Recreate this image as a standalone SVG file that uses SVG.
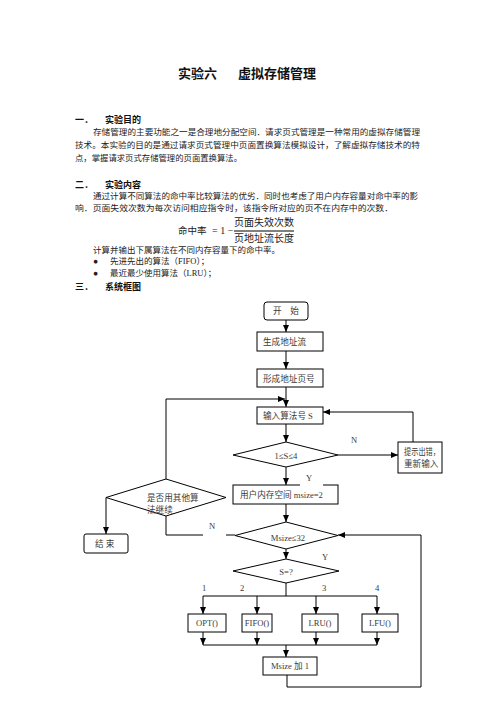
<svg xmlns="http://www.w3.org/2000/svg" width="496" height="702" viewBox="0 0 496 702">
<style>
text{font-family:"Liberation Serif","Noto Sans CJK SC",serif;fill:#222}
.t{font-size:13px;font-weight:bold;fill:#111}
.h{font-size:9px;font-weight:bold;fill:#111}
.p{font-size:8.5px}
.f{font-size:8.6px;fill:#3a3a3a}
.c{text-anchor:middle}
.box{fill:#fff;stroke:#000;stroke-width:1}
.ln{fill:none;stroke:#000;stroke-width:1}
</style>
<defs>
<marker id="ar" markerUnits="userSpaceOnUse" markerWidth="7" markerHeight="6" refX="7" refY="3" orient="auto">
<path d="M0,0 L7,3 L0,6 z" fill="#000"/>
</marker>
</defs>
<rect width="496" height="702" fill="#fff"/>

<g id="doc">
<text class="t" x="178" y="77.5">实验六</text>
<text class="t" x="238" y="77.5">虚拟存储管理</text>
<text class="h" x="75" y="123">一．</text>
<text class="h" x="105" y="123">实验目的</text>
<text class="p" x="93" y="135" textLength="327" lengthAdjust="spacingAndGlyphs">存储管理的主要功能之一是合理地分配空间．请求页式管理是一种常用的虚拟存储管理</text>
<text class="p" x="75" y="148" textLength="345" lengthAdjust="spacingAndGlyphs">技术。本实验的目的是通过请求页式管理中页面置换算法模拟设计，了解虚拟存储技术的特</text>
<text class="p" x="75" y="161" textLength="167" lengthAdjust="spacingAndGlyphs">点，掌握请求页式存储管理的页面置换算法。</text>
<text class="h" x="75" y="188">二．</text>
<text class="h" x="105" y="188">实验内容</text>
<text class="p" x="93" y="199" textLength="325" lengthAdjust="spacingAndGlyphs">通过计算不同算法的命中率比较算法的优劣．同时也考虑了用户内存容量对命中率的影</text>
<text class="p" x="75" y="211" textLength="318" lengthAdjust="spacingAndGlyphs">响．页面失效次数为每次访问相应指令时，该指令所对应的页不在内存中的次数．</text>
<text x="178" y="234" style="font-size:9.5px">命中率</text>
<text x="212" y="234" style="font-size:10px">= 1 −</text>
<text x="264" y="226" class="c" style="font-size:10px">页面失效次数</text>
<line x1="234" y1="231" x2="294" y2="231" class="ln"/>
<text x="264" y="241.5" class="c" style="font-size:10px">页地址流长度</text>
<text class="p" x="93" y="253">计算并输出下属算法在不同内存容量下的命中率。</text>
<text class="p" x="93" y="264">●</text>
<text class="p" x="110" y="264">先进先出的算法（FIFO）；</text>
<text class="p" x="93" y="276">●</text>
<text class="p" x="110" y="276">最近最少使用算法（LRU）；</text>
<text class="h" x="75" y="290">三．</text>
<text class="h" x="105" y="290">系统框图</text>
</g>

<g id="connectors">
<line class="ln" x1="286" y1="320" x2="286" y2="332" marker-end="url(#ar)"/>
<line class="ln" x1="286" y1="351" x2="286" y2="369" marker-end="url(#ar)"/>
<line class="ln" x1="286" y1="387" x2="286" y2="407" marker-end="url(#ar)"/>
<polyline class="ln" points="166,479 166,399 285,399" marker-end="url(#ar)"/>
<line class="ln" x1="286" y1="424" x2="286" y2="442" marker-end="url(#ar)"/>
<line class="ln" x1="338" y1="455" x2="398" y2="455" marker-end="url(#ar)"/>
<polyline class="ln" points="413,442 413,412 323,412" marker-end="url(#ar)"/>
<line class="ln" x1="286" y1="467" x2="286" y2="485" marker-end="url(#ar)"/>
<line class="ln" x1="286" y1="504" x2="286" y2="522" marker-end="url(#ar)"/>
<line class="ln" x1="235" y1="535" x2="226" y2="535"/>
<polyline class="ln" points="203,535 166,535 166,516"/>
<line class="ln" x1="106" y1="497.5" x2="106" y2="534" marker-end="url(#ar)"/>
<line class="ln" x1="286" y1="549" x2="286" y2="559" marker-end="url(#ar)"/>
<line class="ln" x1="286" y1="583" x2="286" y2="596"/>
<line class="ln" x1="203" y1="596" x2="377" y2="596"/>
<line class="ln" x1="203" y1="596" x2="203" y2="614" marker-end="url(#ar)"/>
<line class="ln" x1="257" y1="596" x2="257" y2="614" marker-end="url(#ar)"/>
<line class="ln" x1="316" y1="596" x2="316" y2="614" marker-end="url(#ar)"/>
<line class="ln" x1="377" y1="596" x2="377" y2="614" marker-end="url(#ar)"/>
<line class="ln" x1="203" y1="632" x2="203" y2="645" marker-end="url(#ar)"/>
<line class="ln" x1="257" y1="632" x2="257" y2="645" marker-end="url(#ar)"/>
<line class="ln" x1="316" y1="632" x2="316" y2="645" marker-end="url(#ar)"/>
<line class="ln" x1="377" y1="632" x2="377" y2="645" marker-end="url(#ar)"/>
<line class="ln" x1="203" y1="645" x2="377" y2="645"/>
<line class="ln" x1="286" y1="645" x2="286" y2="657" marker-end="url(#ar)"/>
<polyline class="ln" points="287,675 287,687 421,687 421,535 338,535" marker-end="url(#ar)"/>
</g>

<g id="start"><rect class="box" x="264" y="302" width="44" height="18" rx="3"/><text class="f c" x="286" y="314">开　始</text></g>
<g id="gen"><rect class="box" x="257" y="332" width="66" height="19"/><text class="f" x="263" y="345">生成地址流</text></g>
<g id="page"><rect class="box" x="257" y="369" width="66" height="18"/><text class="f" x="263" y="381.5">形成地址页号</text></g>
<g id="input"><rect class="box" x="257" y="407" width="66" height="17"/><text class="f" x="263" y="419">输入算法号 S</text></g>
<g id="check"><polygon class="box" points="233,455 286,442 338,455 286,467"/><text class="f c" x="286" y="458.5">1≤S≤4</text></g>
<g id="err"><rect class="box" x="398" y="442" width="44" height="31"/><text class="f" x="404" y="455" textLength="36" lengthAdjust="spacingAndGlyphs">提示出错，</text><text class="f" x="404" y="467">重新输入</text></g>
<g id="msize"><rect class="box" x="233" y="485" width="105" height="19"/><text class="f" x="240" y="498">用户内存空间 msize=2</text></g>
<g id="lblY1"><rect x="300" y="472" width="23" height="14" fill="#fff"/><text class="f" x="306" y="481">Y</text></g>
<g id="lblN1"><text class="f" x="351" y="443">N</text></g>
<g id="other"><polygon class="box" points="106,497.5 166,479 226,497.5 166,516"/><text class="f" x="147" y="501">是否用其他算</text><text class="f" x="147" y="513">法继续</text></g>
<g id="lblN2"><text class="f" x="209" y="529">N</text></g>
<g id="end"><rect class="box" x="84" y="534" width="44" height="19" rx="2"/><text class="f" x="95" y="546.5">结 束</text></g>
<g id="cond"><polygon class="box" points="235,535.5 286,522 338,535.5 286,549"/><text class="f c" x="288" y="541">Msize≤32</text></g>
<g id="lblY2"><text class="f" x="322" y="560">Y</text></g>
<g id="sel"><polygon class="box" points="233,571 286,559 339,571 286,583"/><text class="f c" x="286" y="574.5">S=?</text></g>
<g id="nums"><text class="f" x="202" y="591">1</text><text class="f" x="240" y="591">2</text><text class="f" x="322" y="591">3</text><text class="f" x="375" y="591">4</text></g>
<g id="opt"><rect class="box" x="188" y="614" width="38" height="18"/><text class="f c" x="207" y="626">OPT()</text></g>
<g id="fifo"><rect class="box" x="242" y="614" width="30" height="18"/><text class="f c" x="257" y="626">FIFO()</text></g>
<g id="lru"><rect class="box" x="302" y="614" width="36" height="18"/><text class="f c" x="320" y="626">LRU()</text></g>
<g id="lfu"><rect class="box" x="362" y="614" width="36" height="18"/><text class="f c" x="380" y="626">LFU()</text></g>
<g id="inc"><rect class="box" x="263" y="657" width="54" height="18"/><text class="f c" x="290" y="669">Msize 加 1</text></g>
</svg>
